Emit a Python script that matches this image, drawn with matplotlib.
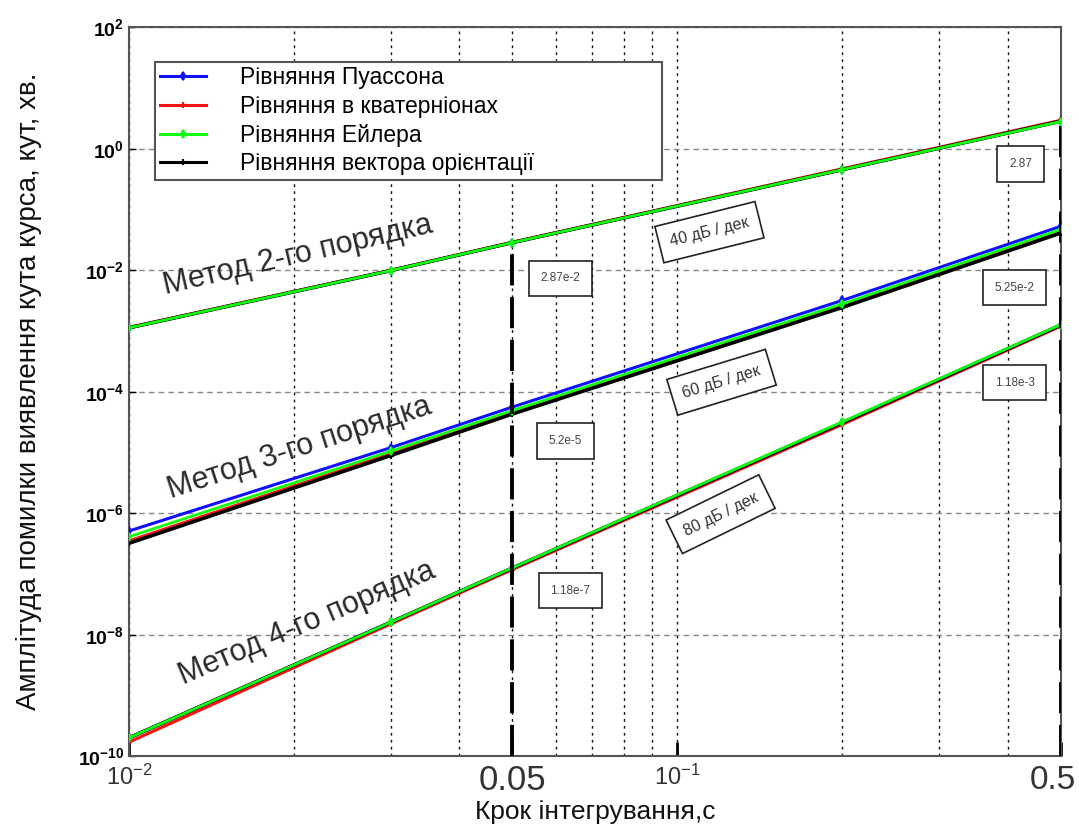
import matplotlib
matplotlib.use("Agg")
import matplotlib.pyplot as plt
import numpy as np

plt.rcParams["font.family"] = ["Liberation Sans", "DejaVu Sans"]
plt.rcParams["mathtext.fontset"] = "custom"
plt.rcParams["mathtext.rm"] = "Liberation Sans"
plt.rcParams["mathtext.it"] = "Liberation Sans:italic"
plt.rcParams["mathtext.bf"] = "Liberation Sans:bold"

# data
steps = [0.01, 0.03, 0.05, 0.2, 0.5]

# 2nd order method
o2_poisson = [1.13e-3, 9.9e-3, 2.86e-2, 0.455, 2.85]
o2_quat = [1.15e-3, 1.0e-2, 2.9e-2, 0.47, 2.95]
o2_euler = [1.13e-3, 9.9e-3, 2.86e-2, 0.455, 2.82]
o2_vector = [1.13e-3, 9.9e-3, 2.86e-2, 0.455, 2.85]

# 3rd order method
o3_poisson = [5.1e-7, 1.2e-5, 5.6e-5, 3.2e-3, 5.3e-2]
o3_quat = [3.5e-7, 9.5e-6, 4.5e-5, 2.6e-3, 4.3e-2]
o3_euler = [4.1e-7, 1.05e-5, 4.9e-5, 2.8e-3, 4.7e-2]
o3_vector = [3.2e-7, 8.9e-6, 4.3e-5, 2.45e-3, 4.1e-2]

# 4th order method
o4_poisson = [2.0e-10, 1.6e-8, 1.25e-7, 3.1e-5, 1.25e-3]
o4_quat = [1.7e-10, 1.5e-8, 1.18e-7, 2.9e-5, 1.2e-3]
o4_euler = [2.0e-10, 1.6e-8, 1.26e-7, 3.2e-5, 1.27e-3]
o4_vector = [2.0e-10, 1.6e-8, 1.25e-7, 3.1e-5, 1.25e-3]

legend_names = ["Рівняння Пуассона", "Рівняння в кватерніонах",
                "Рівняння Ейлера", "Рівняння вектора орієнтації"]
colors = ["#1010ff", "#ff1010", "#10ff10", "#000000"]

# boxed value labels
label_x = [0.05, 0.05, 0.05, 0.5, 0.5, 0.5]
label_y = [2.87e-2, 5.2e-5, 1.18e-7, 2.87, 5.25e-2, 1.18e-3]
label_txt = ["2.87e-2", "5.2e-5", "1.18e-7", "2.87", "5.25e-2", "1.18e-3"]
label_off = [(48, -36), (53, -32), (58, -21), (-40, -43), (-46, -61), (-46, -56)]

method_txt = ["Метод 2-го порядка", "Метод 3-го порядка", "Метод 4-го порядка"]
slope_txt = ["40 дБ / дек", "60 дБ / дек", "80 дБ / дек"]

fig = plt.figure(figsize=(10.79, 8.30), dpi=100)
ax = fig.add_axes([0.1196, 0.089, 0.8634, 0.878])

groups = [
    [o2_poisson, o2_quat, o2_euler, o2_vector],
    [o3_poisson, o3_quat, o3_euler, o3_vector],
    [o4_poisson, o4_quat, o4_euler, o4_vector],
]
markers = ["d", "+", "d", "+"]
widths = [2.2, 2.2, 2.0, 2.6]
zorders = [3, 4, 6, 5]

for g in groups:
    for i in range(4):
        ax.plot(steps, g[i], color=colors[i], lw=widths[i], marker=markers[i],
                ms=4, mew=1.5, zorder=zorders[i])

# legend handles
handles = []
for i in range(4):
    h, = ax.plot([], [], color=colors[i], lw=2.2, marker=markers[i], ms=4, mew=1.5)
    handles.append(h)
leg = ax.legend(handles, legend_names, loc="upper left",
                bbox_to_anchor=(0.028, 0.791, 0.544, 0.162), mode="expand",
                borderaxespad=0, fontsize=16.5, labelspacing=0.25,
                handlelength=2.0, handletextpad=1.5, borderpad=0.2,
                fancybox=False, framealpha=1)
leg.get_frame().set_edgecolor("#555555")
leg.get_frame().set_linewidth(1.5)
leg.set_zorder(10)

# thick dashed verticals at 0.05 and 0.5
ax.vlines([0.05, 0.5], 1e-10, [o2_poisson[2], o2_poisson[4]], colors="black",
          lw=2.8, linestyles=(0, (8, 3)), zorder=7)

ax.set_xscale("log")
ax.set_yscale("log")
ax.set_xlim(0.01, 0.5)
ax.set_ylim(1e-10, 1e2)

ax.set_yticks([10.0 ** p for p in range(-10, 3, 2)])
ax.set_yticklabels([r"$\mathbf{10^{%d}}$" % p for p in range(-10, 3, 2)], fontsize=14)
ax.yaxis.set_minor_locator(matplotlib.ticker.NullLocator())

ax.set_xticks([0.01, 0.05, 0.1, 0.5])
ax.set_xticklabels([r"$10^{-2}$", "0.05", r"$10^{-1}$", ""])
xl = ax.get_xticklabels()
xl[0].set_fontsize(17)
xl[1].set_fontsize(25)
xl[2].set_fontsize(17)
for t in xl:
    t.set_color("#333333")
# last tick label sits against the figure edge, drawn by hand slightly left
ax.annotate("0.5", xy=(0.5, 0), xycoords=("data", "axes fraction"),
            xytext=(-8, -9), textcoords="offset pixels", ha="center", va="top",
            fontsize=24, color="#333333", annotation_clip=False)
ax.set_xticks([0.02, 0.03, 0.04, 0.06, 0.07, 0.08, 0.09, 0.2, 0.3, 0.4], minor=True)
ax.xaxis.set_minor_formatter(matplotlib.ticker.NullFormatter())
ax.tick_params(axis="both", direction="in", length=5, width=1)
ax.tick_params(axis="x", which="major", length=10, width=2, pad=6)
ax.tick_params(axis="x", which="minor", length=0)

ax.grid(True, which="major", axis="y", color="#888888", ls=(0, (4, 3)), lw=1)
ax.grid(True, which="both", axis="x", color="#111111", ls=(0, (2, 3)), lw=1)

for s in ax.spines.values():
    s.set_color("#555555")
    s.set_linewidth(1.5)

ax.set_xlabel("Крок інтегрування,с", fontsize=19, labelpad=2, color="#111111")
ax.set_ylabel("Амплітуда помилки виявлення кута курса, кут, хв.", fontsize=20,
              labelpad=26, color="#111111")

# method labels
method_pos = [(0.181, 0.687, 13), (0.183, 0.4225, 18), (0.191, 0.182, 23)]
for t, (px, py, rot) in zip(method_txt, method_pos):
    ax.text(px, py, t, transform=ax.transAxes, fontsize=22, color="#2a2a2a",
            rotation=rot, ha="center", va="center", rotation_mode="anchor", zorder=8)

# slope boxes
slope_pos = [(0.623, 0.719, 14), (0.636, 0.513, 17), (0.635, 0.332, 26)]
for t, (px, py, rot) in zip(slope_txt, slope_pos):
    ax.text(px, py, t, transform=ax.transAxes, fontsize=11.5, color="#333333",
            rotation=rot, ha="center", va="center", rotation_mode="anchor", zorder=8,
            bbox=dict(boxstyle="square,pad=0.7", fc="white", ec="#222222", lw=1.2))

# value boxes
for x, y, t, off in zip(label_x, label_y, label_txt, label_off):
    ax.annotate(t, xy=(x, y), xytext=off, textcoords="offset pixels",
                fontsize=8.5, color="#444444", ha="center", va="center", zorder=9,
                bbox=dict(boxstyle="square,pad=1.0", fc="white", ec="#222222", lw=1.2))

plt.savefig("out.png", dpi=100)
